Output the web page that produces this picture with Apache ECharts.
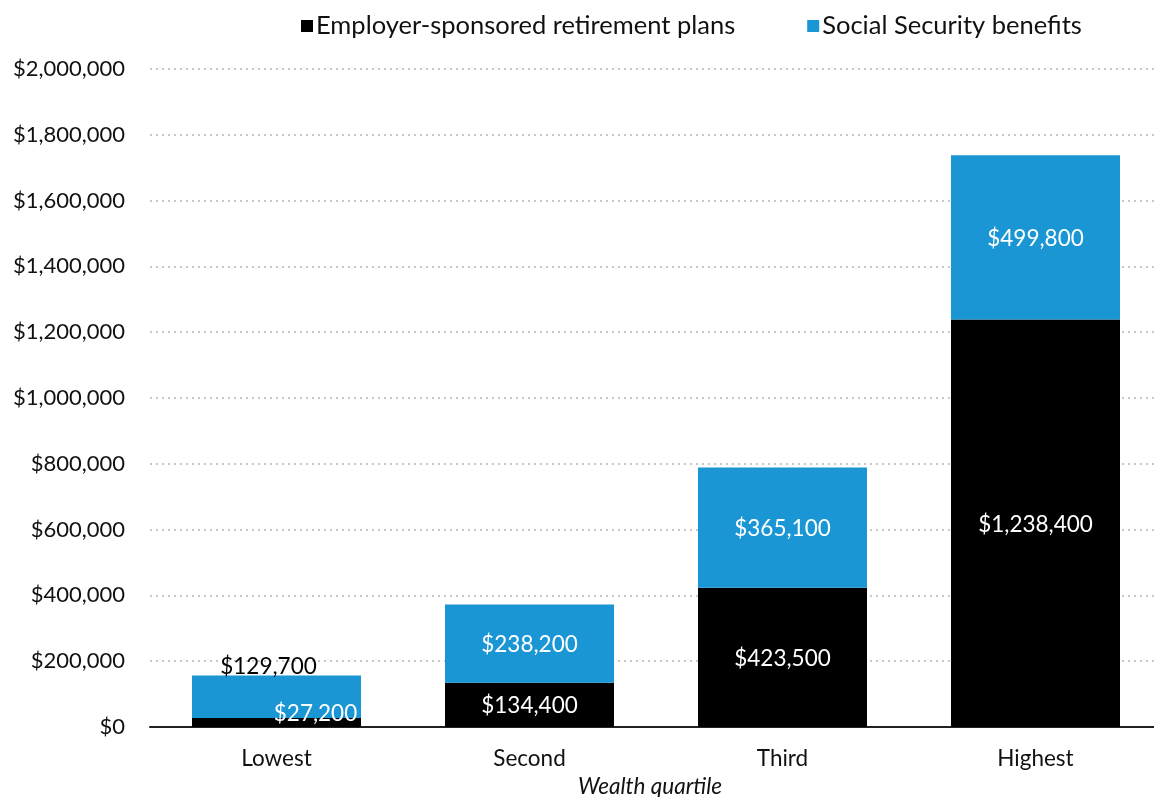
<!DOCTYPE html>
<html><head><meta charset="utf-8">
<script src="https://cdn.jsdelivr.net/npm/echarts@6/dist/echarts.min.js"></script>
<style>html,body{margin:0;padding:0;background:#fff}#c{width:1154px;height:797px}</style>
</head><body><div id="c"></div>
<script>
const categories = ['Lowest', 'Second', 'Third', 'Highest'];
const employerPlans = [27200, 134400, 423500, 1238400];
const socialSecurity = [129700, 238200, 365100, 499800];
const seriesNames = ['Employer-sponsored retirement plans', 'Social Security benefits'];
const yTicks = [0, 2000000, 200000]; // min, max, interval

const fmt = v => '$' + v.toLocaleString('en-US');
const FONT = 'Lato, "Open Sans", sans-serif';

function labelCfg(i, isBlue) {
  const base = { show: true, position: 'inside', color: '#fff', fontSize: 22.5, fontFamily: FONT, offset: [0, 1], formatter: p => fmt(p.value) };
  if (i === 0) {
    if (isBlue) return Object.assign({}, base, { color: '#000', offset: [-8, -30] });
    return Object.assign({}, base, { offset: [39, -9] });
  }
  return base;
}

const chart = echarts.init(document.getElementById('c'), null, { renderer: 'canvas' });
chart.setOption({
  animation: false,
  textStyle: { fontFamily: FONT },
  legend: {
    left: 296, top: 8, itemWidth: 12, itemHeight: 12, itemGap: 72, icon: 'rect',
    textStyle: { fontSize: 25.5, color: '#111', fontFamily: FONT, padding: [0, 0, 0, -2] },
    data: seriesNames
  },
  grid: { left: 150, top: 69, width: 1012, height: 658, containLabel: false, outerBoundsMode: 'none' },
  xAxis: {
    type: 'category', data: categories,
    axisLine: { lineStyle: { color: '#222', width: 2 } },
    axisTick: { show: false },
    axisLabel: { fontSize: 22.5, color: '#111', margin: 20, fontFamily: FONT },
    name: 'Wealth quartile', nameLocation: 'middle', nameGap: 46,
    nameTextStyle: { fontSize: 22.5, fontStyle: 'italic', color: '#111', fontFamily: FONT, padding: [0, 12, 0, 0] }
  },
  yAxis: {
    type: 'value', min: yTicks[0], max: yTicks[1], interval: yTicks[2],
    axisLine: { show: false }, axisTick: { show: false },
    axisLabel: { fontSize: 22, color: '#111', margin: 25, fontFamily: FONT, formatter: v => fmt(v) },
    splitLine: { lineStyle: { color: '#c8c8c8', type: [2, 4], width: 2 } }
  },
  series: [
    {
      name: seriesNames[0], type: 'bar', stack: 'total', barWidth: 169,
      itemStyle: { color: '#000000' },
      data: employerPlans.map((v, i) => ({ value: v, label: labelCfg(i, false) }))
    },
    {
      name: seriesNames[1], type: 'bar', stack: 'total', barWidth: 169,
      itemStyle: { color: '#1a96d4' },
      data: socialSecurity.map((v, i) => ({ value: v, label: labelCfg(i, true) }))
    }
  ]
});
</script></body></html>
